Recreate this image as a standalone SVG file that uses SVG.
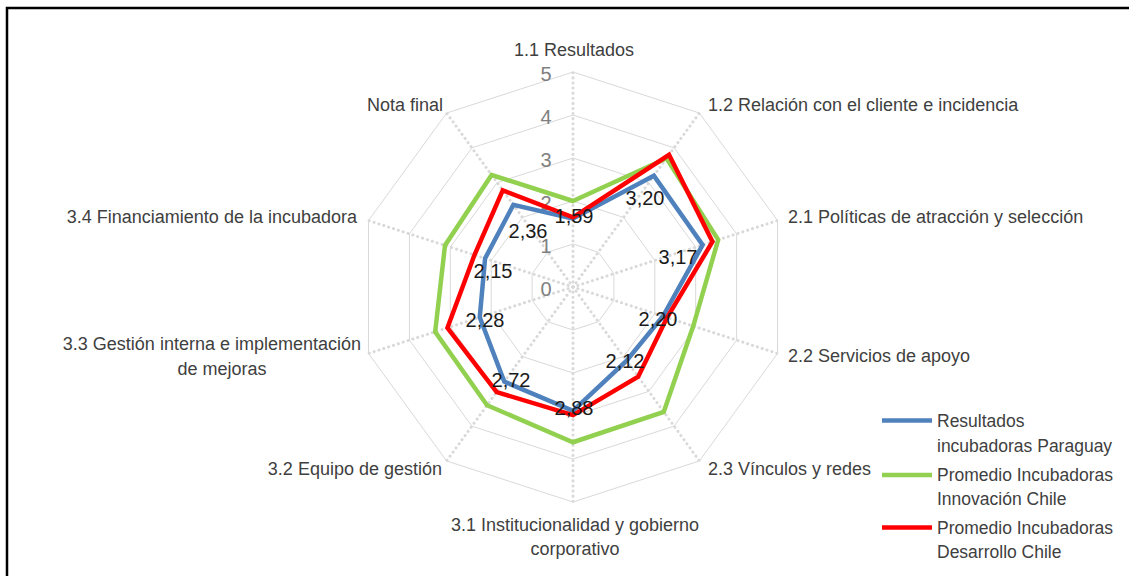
<svg xmlns="http://www.w3.org/2000/svg" width="1129" height="576" viewBox="0 0 1129 576">
<style>
.ring{fill:none;stroke:#d9d9d9;stroke-width:1}
.spoke{stroke:#d9d9d9;stroke-width:3;stroke-dasharray:0.1 5;stroke-linecap:round}
.ser{fill:none;stroke-width:4.5;stroke-linejoin:miter}
.ax{font-family:"Liberation Sans",Arial,sans-serif;font-size:18px;fill:#404040}
.val{font-family:"Liberation Sans",Arial,sans-serif;font-size:20px;fill:#808080;text-anchor:middle}
.dl{font-family:"Liberation Sans",Arial,sans-serif;font-size:20px;fill:#1a1a1a;text-anchor:middle}
.lg{font-family:"Liberation Sans",Arial,sans-serif;font-size:17.5px;fill:#404040}
</style>
<rect width="1129" height="576" fill="#fff"/>
<path d="M7,580 V8 H1135" fill="none" stroke="#000" stroke-width="2.5"/>
<g id="grid">
<polygon class="ring" points="573,244 598.28,252.21 613.90,273.71 613.90,300.29 598.28,321.79 573,330 547.72,321.79 532.10,300.29 532.10,273.71 547.72,252.21"/>
<polygon class="ring" points="573,201 623.55,217.43 654.79,260.43 654.79,313.57 623.55,356.57 573,373 522.45,356.57 491.21,313.57 491.21,260.43 522.45,217.43"/>
<polygon class="ring" points="573,158 648.83,182.64 695.69,247.14 695.69,326.86 648.83,391.36 573,416 497.17,391.36 450.31,326.86 450.31,247.14 497.17,182.64"/>
<polygon class="ring" points="573,115 674.10,147.85 736.59,233.85 736.59,340.15 674.10,426.15 573,459 471.90,426.15 409.41,340.15 409.41,233.85 471.90,147.85"/>
<polygon class="ring" points="573,72 699.38,113.06 777.49,220.56 777.49,353.44 699.38,460.94 573,502 446.62,460.94 368.51,353.44 368.51,220.56 446.62,113.06"/>
<g class="spoke">
<line x1="573" y1="287" x2="573" y2="72"/>
<line x1="573" y1="287" x2="699.38" y2="113.06"/>
<line x1="573" y1="287" x2="777.49" y2="220.56"/>
<line x1="573" y1="287" x2="777.49" y2="353.44"/>
<line x1="573" y1="287" x2="699.38" y2="460.94"/>
<line x1="573" y1="287" x2="573" y2="502"/>
<line x1="573" y1="287" x2="446.62" y2="460.94"/>
<line x1="573" y1="287" x2="368.51" y2="353.44"/>
<line x1="573" y1="287" x2="368.51" y2="220.56"/>
<line x1="573" y1="287" x2="446.62" y2="113.06"/>
</g>
</g>
<g id="scale">
<text class="val" x="546" y="81">5</text>
<text class="val" x="546" y="124">4</text>
<text class="val" x="546" y="167">3</text>
<text class="val" x="546" y="210">2</text>
<text class="val" x="546" y="253">1</text>
<text class="val" x="546" y="296">0</text>
</g>
<g id="connectors">
<polygon id="serie-paraguay" class="ser" stroke="#4f81bd" points="573,218.63 653.88,175.68 702.64,244.88 662.97,316.23 626.58,360.75 573,410.84 504.25,381.62 479.75,317.29 485.07,258.43 513.35,204.90"/>
<polygon id="serie-innovacion" class="ser" stroke="#92d050" points="573,201 666.52,158.29 718.19,239.83 693.24,326.06 663.74,411.89 573,442.23 487.06,405.28 435.18,331.78 444.99,245.41 491.61,174.99"/>
<polygon id="serie-desarrollo" class="ser" stroke="#ff0000" points="573,217.34 669.05,154.81 712.46,241.69 667.06,317.56 638.21,376.75 573,415.14 496.67,392.06 447.45,327.79 474.44,254.98 502.74,190.29"/>
</g>
<g id="data-labels">
<text class="dl" x="574" y="223">1,59</text>
<text class="dl" x="645" y="205">3,20</text>
<text class="dl" x="678" y="264">3,17</text>
<text class="dl" x="658" y="326">2,20</text>
<text class="dl" x="625" y="368">2,12</text>
<text class="dl" x="574" y="415">2,88</text>
<text class="dl" x="511" y="387">2,72</text>
<text class="dl" x="485" y="327">2,28</text>
<text class="dl" x="493" y="278">2,15</text>
<text class="dl" x="528" y="238">2,36</text>
</g>
<g id="axis-1-1"><text class="ax" x="574" y="56" text-anchor="middle">1.1 Resultados</text></g>
<g id="axis-1-2"><text class="ax" x="708" y="111">1.2 Relación con el cliente e incidencia</text></g>
<g id="axis-2-1"><text class="ax" x="788" y="223">2.1 Políticas de atracción y selección</text></g>
<g id="axis-2-2"><text class="ax" x="788" y="362">2.2 Servicios de apoyo</text></g>
<g id="axis-2-3"><text class="ax" x="708" y="475">2.3 Vínculos y redes</text></g>
<g id="axis-3-1"><text class="ax" x="575" y="531" text-anchor="middle">3.1 Institucionalidad y gobierno</text><text class="ax" x="575" y="555" text-anchor="middle">corporativo</text></g>
<g id="axis-3-2"><text class="ax" x="442" y="475" text-anchor="end">3.2 Equipo de gestión</text></g>
<g id="axis-3-3"><text class="ax" x="361" y="350" text-anchor="end">3.3 Gestión interna e implementación</text><text class="ax" x="222" y="375" text-anchor="middle">de mejoras</text></g>
<g id="axis-3-4"><text class="ax" x="357" y="223" text-anchor="end">3.4 Financiamiento de la incubadora</text></g>
<g id="axis-nota"><text class="ax" x="443" y="111" text-anchor="end">Nota final</text></g>
<g id="legend">
<line x1="882" y1="420.5" x2="932" y2="420.5" stroke="#4f81bd" stroke-width="4.5"/>
<text class="lg" x="937" y="427">Resultados</text>
<text class="lg" x="937" y="452">incubadoras Paraguay</text>
<line x1="882" y1="475" x2="932" y2="475" stroke="#92d050" stroke-width="4.5"/>
<text class="lg" x="937" y="481">Promedio Incubadoras</text>
<text class="lg" x="937" y="505">Innovación Chile</text>
<line x1="882" y1="527.5" x2="932" y2="527.5" stroke="#ff0000" stroke-width="4.5"/>
<text class="lg" x="937" y="534">Promedio Incubadoras</text>
<text class="lg" x="937" y="558">Desarrollo Chile</text>
</g>
</svg>
